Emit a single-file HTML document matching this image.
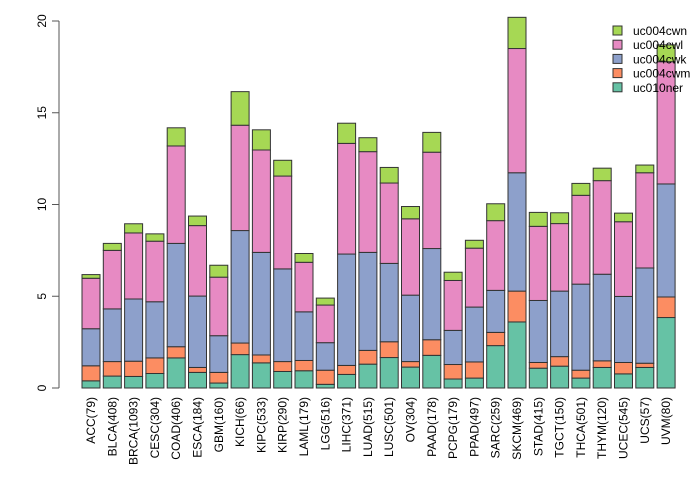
<!DOCTYPE html>
<html><head><meta charset="utf-8"><style>
body{margin:0;background:#fff}
svg text{font-family:"Liberation Sans",sans-serif;fill:#000}
</style></head><body>
<svg id="chart" width="700" height="480"></svg>
<script>
const categories=["ACC(79)","BLCA(408)","BRCA(1093)","CESC(304)","COAD(406)","ESCA(184)","GBM(160)","KICH(66)","KIPC(533)","KIRP(290)","LAML(179)","LGG(516)","LIHC(371)","LUAD(515)","LUSC(501)","OV(304)","PAAD(178)","PCPG(179)","PPAD(497)","SARC(259)","SKCM(469)","STAD(415)","TGCT(150)","THCA(501)","THYM(120)","UCEC(545)","UCS(57)","UVM(80)"];
const seriesNames=["uc010ner","uc004cwm","uc004cwk","uc004cwl","uc004cwn"];
const colors=["#66c2a5","#fc8d62","#8da0cb","#e78ac3","#a6d854"];
// cumulative tops
const cumTeal=[0.39,0.65,0.63,0.79,1.64,0.85,0.27,1.82,1.37,0.90,0.94,0.20,0.74,1.30,1.66,1.14,1.78,0.49,0.54,2.31,3.60,1.08,1.19,0.54,1.12,0.77,1.12,3.84];
const cumOrange=[1.21,1.44,1.46,1.64,2.25,1.12,0.85,2.45,1.80,1.44,1.50,0.97,1.23,2.05,2.52,1.44,2.63,1.28,1.42,3.03,5.28,1.39,1.71,0.97,1.48,1.39,1.35,4.96];
const cumBlue=[3.23,4.31,4.85,4.70,7.88,5.01,2.85,8.58,7.39,6.49,4.15,2.47,7.30,7.39,6.79,5.06,7.60,3.14,4.41,5.32,11.73,4.77,5.28,5.66,6.20,4.99,6.54,11.12];
const cumPink=[5.98,7.50,8.45,8.00,13.19,8.85,6.04,14.32,12.97,11.55,6.85,4.52,13.33,12.88,11.17,9.22,12.85,5.86,7.62,9.12,18.50,8.81,8.96,10.50,11.30,9.06,11.73,17.78];
const cumGreen=[6.18,7.88,8.95,8.40,14.18,9.37,6.69,16.15,14.07,12.41,7.33,4.90,14.43,13.64,12.02,9.89,13.93,6.31,8.05,10.04,20.20,9.57,9.55,11.15,11.98,9.53,12.15,18.70];
const yTicks=[0,5,10,15,20];

const NS="http://www.w3.org/2000/svg";
const svg=document.getElementById('chart');
const y0=388, pxPerUnit=18.35;
const yScale=v=>y0-v*pxPerUnit;
const band=21.3, bw=18, x0=82;
const xScale=i=>x0+i*band;
function mk(tag,attrs){const e=document.createElementNS(NS,tag);for(const k in attrs)e.setAttribute(k,attrs[k]);svg.appendChild(e);return e;}
const stacks=[cumTeal,cumOrange,cumBlue,cumPink,cumGreen];
categories.forEach((c,i)=>{
  let prev=0;
  stacks.forEach((arr,s)=>{
    const top=arr[i];
    const r=mk('rect',{x:xScale(i),y:yScale(top),width:bw,height:Math.max(0,yScale(prev)-yScale(top)),fill:colors[s],stroke:'#333','stroke-width':1});
    
    
    prev=top;
  });
  const cx=xScale(i)+bw/2+4;
  const t=mk('text',{x:0,y:0,'font-size':12,'text-anchor':'end',transform:`translate(${cx},397) rotate(-90)`});
  t.textContent=c;
  
  
});
const ax=mk('line',{x1:59,x2:59,y1:yScale(0),y2:yScale(20),stroke:'#555'});


yTicks.forEach(v=>{
  const tk=mk('line',{x1:52,x2:59,y1:yScale(v),y2:yScale(v),stroke:'#555'});
  
  
  const t=mk('text',{x:0,y:0,'font-size':12,'text-anchor':'middle',transform:`translate(46,${yScale(v)}) rotate(-90)`});
  t.textContent=v;
  
  
});
const legendOrder=[4,3,2,1,0];
legendOrder.forEach((s,k)=>{
  const yy=26+k*14.2;
  const r=mk('rect',{x:613,y:yy,width:9,height:9,fill:colors[s],stroke:'#333'});
  
  
  const t=mk('text',{x:633,y:yy+9,'font-size':12});
  t.textContent=seriesNames[s];
  
  
});
</script>
</body></html>
